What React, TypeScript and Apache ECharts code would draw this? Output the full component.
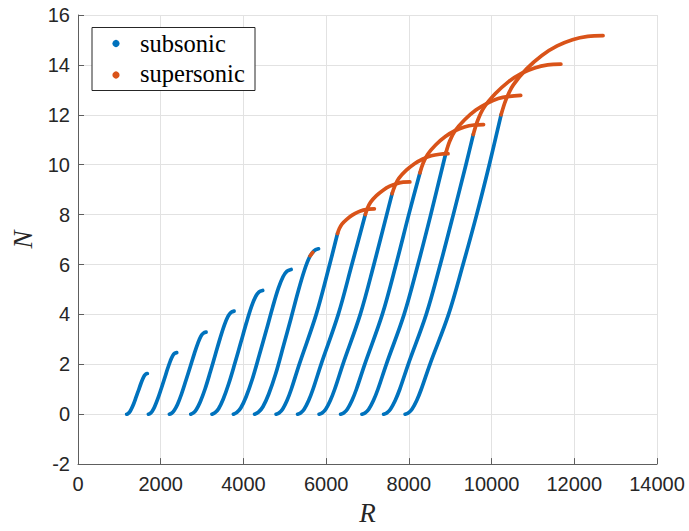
import React, { useEffect, useRef } from "react";
import * as echarts from "echarts";

// Axis ranges / ticks
const xMin = 0;
const xMax = 14000;
const xStep = 2000;
const yMin = -2;
const yMax = 16;
const yStep = 2;

const legendNames = ["subsonic", "supersonic"];
const BLUE = "#0072BD";
const ORANGE = "#D95319";

// Subsonic (blue) branches, [R, N]
const sub1 = [[1177, 0], [1207, 0.02], [1242, 0.07], [1287, 0.2], [1342, 0.4], [1402, 0.67], [1462, 0.95], [1517, 1.21], [1567, 1.42], [1607, 1.55], [1642, 1.61], [1677, 1.63]];
const sub2 = [[1702, 0], [1743, 0.03], [1791, 0.11], [1853, 0.3], [1928, 0.61], [2010, 1.01], [2092, 1.43], [2168, 1.83], [2236, 2.15], [2291, 2.35], [2339, 2.44], [2387, 2.47]];
const sub3 = [[2210, 0], [2263, 0.04], [2325, 0.15], [2405, 0.39], [2503, 0.81], [2609, 1.35], [2716, 1.91], [2813, 2.43], [2902, 2.86], [2973, 3.13], [3035, 3.25], [3097, 3.29]];
const sub4 = [[2726, 0], [2789, 0.05], [2862, 0.19], [2957, 0.5], [3072, 1.01], [3198, 1.69], [3323, 2.4], [3439, 3.06], [3543, 3.59], [3627, 3.92], [3701, 4.08], [3774, 4.13]];
const sub5 = [[3240, 0], [3314, 0.06], [3399, 0.22], [3510, 0.6], [3644, 1.22], [3791, 2.03], [3938, 2.88], [4073, 3.67], [4196, 4.32], [4294, 4.71], [4379, 4.9], [4465, 4.96]];
const sub6 = [[3758, 0], [3842, 0.07], [3939, 0.26], [4065, 0.7], [4218, 1.42], [4386, 2.38], [4553, 3.36], [4707, 4.29], [4846, 5.05], [4958, 5.51], [5055, 5.73], [5153, 5.8]];
const sub7 = [[4270, 0], [4363, 0.08], [4471, 0.3], [4610, 0.8], [4780, 1.62], [4965, 2.72], [5151, 3.85], [5321, 4.91], [5475, 5.77], [5599, 6.3], [5707, 6.55], [5815, 6.63]];
const sub8 = [[4790, 0], [4860, 0.05], [4946, 0.2], [5054, 0.55], [5157, 1.0], [5350, 2.0], [5760, 4.0], [6085, 6.0], [6275, 7.24]];
const sub9 = [[5310, 0], [5381, 0.05], [5468, 0.2], [5577, 0.55], [5682, 1.0], [5878, 2.0], [6293, 4.0], [6622, 6.0], [6947, 8.0]];
const sub10 = [[5830, 0], [5902, 0.05], [5990, 0.2], [6100, 0.55], [6207, 1.0], [6405, 2.0], [6825, 4.0], [7155, 6.0], [7465, 8.0], [7595, 8.84]];
const sub11 = [[6350, 0], [6423, 0.05], [6512, 0.2], [6624, 0.55], [6732, 1.0], [6933, 2.0], [7358, 4.0], [7690, 6.0], [7998, 8.0], [8267, 9.67]];
const sub12 = [[6866, 0], [6940, 0.05], [7030, 0.2], [7143, 0.55], [7252, 1.0], [7455, 2.0], [7885, 4.0], [8220, 6.0], [8530, 8.0], [8825, 10.0], [8897, 10.48]];
const sub13 = [[7390, 0], [7465, 0.05], [7555, 0.2], [7670, 0.55], [7780, 1.0], [7985, 2.0], [8420, 4.0], [8760, 6.0], [9075, 8.0], [9380, 10.0], [9558, 11.21]];
const sub14 = [[7910, 0], [7985, 0.05], [8075, 0.2], [8190, 0.55], [8300, 1.0], [8510, 2.0], [8960, 4.0], [9310, 6.0], [9640, 8.0], [9945, 10.0], [10230, 12.0]];

// Supersonic (orange) branches, [R, N]
const sup7 = [[5615, 6.35], [5645, 6.42], [5675, 6.48]];
const sup8 = [[6275, 7.24], [6320, 7.44], [6382, 7.62], [6498, 7.81], [6631, 7.98], [6765, 8.1], [6899, 8.18], [7032, 8.22], [7166, 8.23]];
const sup9 = [[6947, 8.0], [7001, 8.26], [7076, 8.5], [7216, 8.76], [7378, 8.98], [7539, 9.14], [7701, 9.24], [7862, 9.3], [8024, 9.31]];
const sup10 = [[7595, 8.84], [7663, 9.16], [7757, 9.45], [7933, 9.77], [8136, 10.04], [8339, 10.23], [8541, 10.36], [8744, 10.42], [8947, 10.44]];
const sup11 = [[8267, 9.67], [8344, 10.06], [8452, 10.41], [8652, 10.8], [8883, 11.13], [9113, 11.36], [9344, 11.51], [9575, 11.59], [9806, 11.61]];
const sup12 = [[8897, 10.48], [8987, 10.94], [9114, 11.35], [9349, 11.8], [9620, 12.19], [9891, 12.46], [10162, 12.65], [10433, 12.74], [10704, 12.78]];
const sup13 = [[9558, 11.21], [9664, 11.77], [9812, 12.28], [10088, 12.84], [10405, 13.32], [10723, 13.66], [11041, 13.88], [11358, 14.0], [11676, 14.03]];
const sup14 = [[10230, 12.0], [10353, 12.63], [10526, 13.2], [10847, 13.84], [11216, 14.38], [11586, 14.76], [11956, 15.01], [12326, 15.14], [12696, 15.17]];

const subsonicBranches = [sub1, sub2, sub3, sub4, sub5, sub6, sub7, sub8, sub9, sub10, sub11, sub12, sub13, sub14];
const supersonicBranches = [sup7, sup8, sup9, sup10, sup11, sup12, sup13, sup14];

const AXIS_COLOR = "#5e5e5e";
const TEXT_COLOR = "#262626";
const GRID_COLOR = "#e2e2e2";
const SERIF = '"Liberation Serif", "Times New Roman", serif';
const SANS = '"Liberation Sans", Arial, sans-serif';

function lineSeries(name: string, data: number[][], color: string, z: number) {
  return {
    type: "line",
    name,
    data,
    showSymbol: false,
    symbol: "none",
    smooth: 0.35,
    silent: true,
    z,
    lineStyle: { width: 3.7, color, cap: "round", join: "round" },
    itemStyle: { color },
  };
}

const plainLabel = (v: number) => String(v);

export default function App() {
  const ref = useRef<HTMLDivElement>(null);

  useEffect(() => {
    if (!ref.current) return;
    const chart = echarts.init(ref.current, undefined, { renderer: "svg" });

    const series: any[] = [];
    subsonicBranches.forEach((d) => series.push(lineSeries(legendNames[0], d, BLUE, 2)));
    supersonicBranches.forEach((d) => series.push(lineSeries(legendNames[1], d, ORANGE, 3)));

    const option: any = {
      animation: false,
      backgroundColor: "#ffffff",
      grid: { left: 78, right: 32, top: 15, bottom: 65, containLabel: false },
      xAxis: {
        type: "value",
        min: xMin,
        max: xMax,
        interval: xStep,
        name: "R",
        nameLocation: "middle",
        nameGap: 34,
        nameTextStyle: {
          fontFamily: SERIF,
          fontStyle: "italic",
          fontSize: 27,
          color: TEXT_COLOR,
        },
        axisLine: { show: true, onZero: false, lineStyle: { color: AXIS_COLOR, width: 1 } },
        axisTick: { show: true, inside: true, length: 6, lineStyle: { color: AXIS_COLOR, width: 1 } },
        axisLabel: {
          fontFamily: SANS,
          fontSize: 20,
          color: TEXT_COLOR,
          margin: 10,
          formatter: plainLabel,
        },
        splitLine: { show: true, lineStyle: { color: GRID_COLOR, width: 1 } },
      },
      yAxis: {
        type: "value",
        min: yMin,
        max: yMax,
        interval: yStep,
        name: "N",
        nameLocation: "middle",
        nameRotate: 90,
        nameGap: 33,
        nameTextStyle: {
          fontFamily: SERIF,
          fontStyle: "italic",
          fontSize: 27,
          color: TEXT_COLOR,
        },
        axisLine: { show: true, onZero: false, lineStyle: { color: AXIS_COLOR, width: 1 } },
        axisTick: { show: true, inside: true, length: 6, lineStyle: { color: AXIS_COLOR, width: 1 } },
        axisLabel: {
          fontFamily: SANS,
          fontSize: 20,
          color: TEXT_COLOR,
          margin: 8,
          formatter: plainLabel,
        },
        splitLine: { show: true, lineStyle: { color: GRID_COLOR, width: 1 } },
      },
      graphic: [
        {
          type: "rect",
          shape: { x: 92, y: 27.5, width: 163, height: 63 },
          style: { fill: "#ffffff", stroke: "#262626", lineWidth: 1 },
          z: 100,
        },
        {
          type: "circle",
          shape: { cx: 116, cy: 43.5, r: 3.6 },
          style: { fill: BLUE },
          z: 101,
        },
        {
          type: "circle",
          shape: { cx: 116, cy: 75, r: 3.6 },
          style: { fill: ORANGE },
          z: 101,
        },
        {
          type: "text",
          x: 140,
          y: 43,
          style: {
            text: legendNames[0],
            font: '24.5px "Liberation Serif", "Times New Roman", serif',
            fill: "#000000",
            verticalAlign: "middle",
            align: "left",
          },
          z: 101,
        },
        {
          type: "text",
          x: 140,
          y: 73,
          style: {
            text: legendNames[1],
            font: '24.5px "Liberation Serif", "Times New Roman", serif',
            fill: "#000000",
            verticalAlign: "middle",
            align: "left",
          },
          z: 101,
        },
      ],
      series,
    };

    chart.setOption(option);
    return () => chart.dispose();
  }, []);

  return (
    <div
      ref={ref}
      style={{ position: "fixed", left: 0, top: 0, width: 689, height: 531, background: "#fff" }}
    />
  );
}
